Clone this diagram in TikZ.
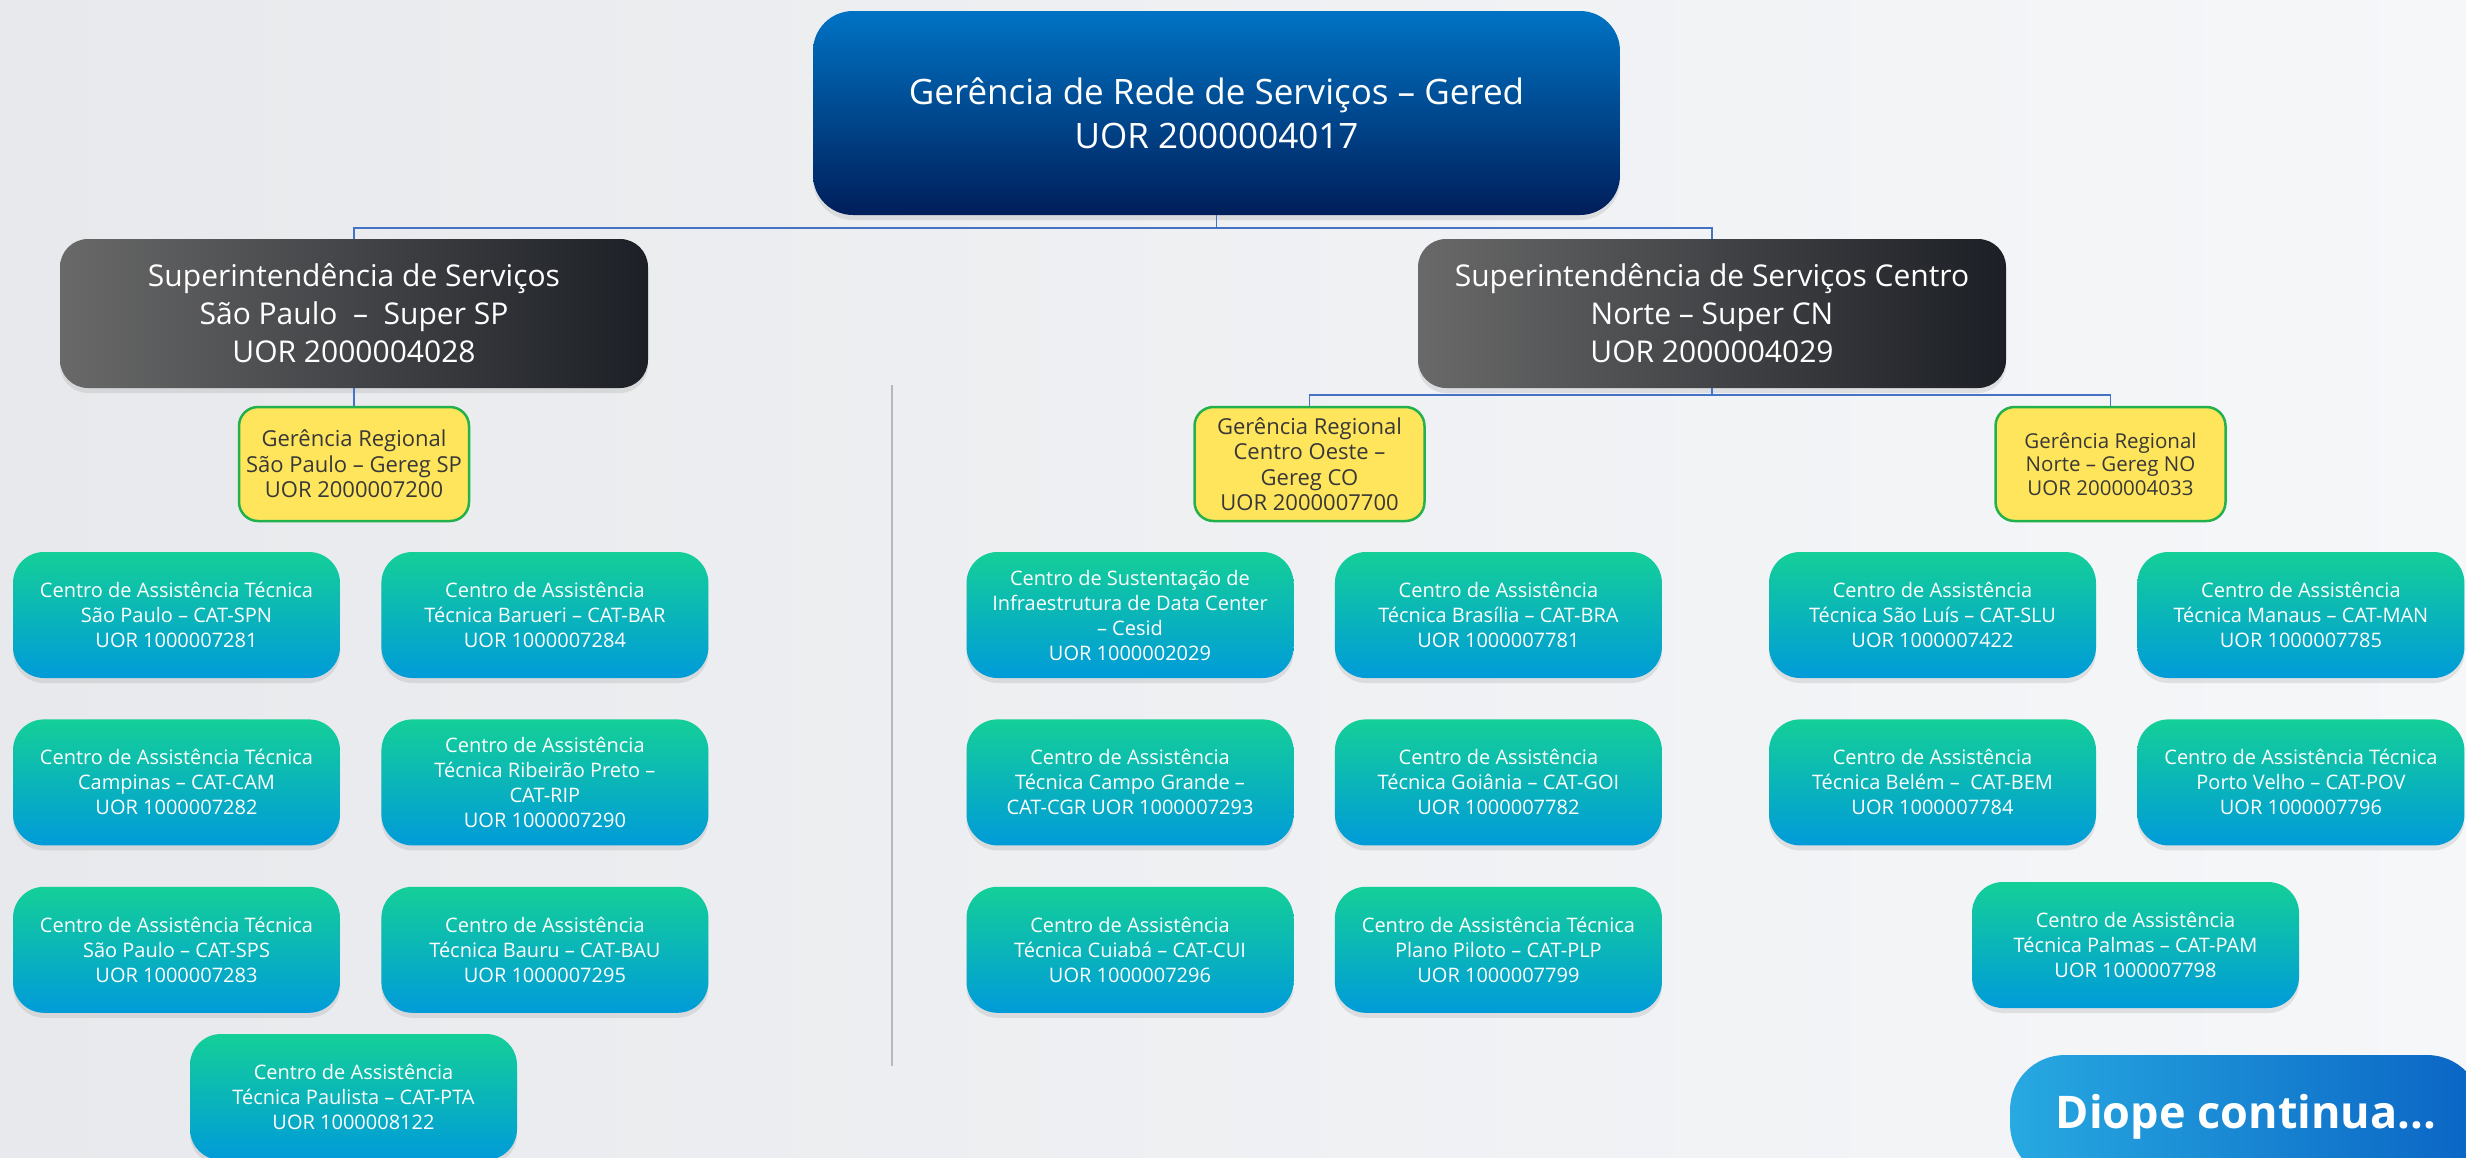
\documentclass[tikz,border=0pt]{standalone}
\usepackage{fontspec}
\setmainfont{Open Sans}
\usetikzlibrary{positioning,shadows}

\definecolor{bgleft}{HTML}{E7E9EC}
\definecolor{bgright}{HTML}{F6F7F9}
\definecolor{geredtop}{HTML}{0073C4}
\definecolor{geredbot}{HTML}{001E5A}
\definecolor{superleft}{HTML}{696969}
\definecolor{superright}{HTML}{1C1F25}
\definecolor{geregfill}{HTML}{FFE55B}
\definecolor{geregline}{HTML}{22B14C}
\definecolor{cattop}{HTML}{14CF98}
\definecolor{catbot}{HTML}{009BD9}
\definecolor{diopeleft}{HTML}{27A9E1}
\definecolor{diopright}{HTML}{0A64C4}
\definecolor{connblue}{HTML}{4472C4}

\begin{document}
\begin{tikzpicture}[x=1pt, y=-1pt, node distance=41pt,
  every node/.style={align=center, inner sep=2pt},
  boxshadow/.style={drop shadow={opacity=0.18, shadow xshift=0pt, shadow yshift=-5pt}},
  topbox/.style={boxshadow, rounded corners=40pt, top color=geredtop, bottom color=geredbot,
    minimum width=807pt, minimum height=204pt, text=white, font=\fontsize{35}{44}\selectfont},
  superbox/.style={boxshadow, rounded corners=28pt, left color=superleft, right color=superright,
    minimum width=588pt, minimum height=149pt, text=white, font=\fontsize{30}{38}\selectfont},
  geregbox/.style={draw=geregline, line width=2.5pt, fill=geregfill, rounded corners=19pt,
    minimum width=230pt, minimum height=114pt, text=black!78, font=\fontsize{22}{25.5}\selectfont},
  catbox/.style={boxshadow, rounded corners=31pt, top color=cattop, bottom color=catbot,
    minimum width=327pt, minimum height=126pt, text=white, font=\fontsize{20}{25}\selectfont},
  conn/.style={draw=connblue, line width=1.5pt},
  divider/.style={draw=black!28, line width=1.5pt}]

\useasboundingbox (0,0) rectangle (2466,1157);
\fill[left color=bgleft, right color=bgright] (0,0) rectangle (2466,1157);

% top levels
\node[topbox] (gered) at (1216.5,113) {Gerência de Rede de Serviços – Gered\\UOR 2000004017};
\node[superbox] (supersp) at (354,313.5) {Superintendência de Serviços\\São Paulo~~–~~Super SP\\UOR 2000004028};
\node[superbox] (supercn) at (1712,313.5) {Superintendência de Serviços Centro\\Norte – Super CN\\UOR 2000004029};

\node[geregbox] (geregsp) at (354,464) {Gerência Regional\\São Paulo – Gereg SP\\UOR 2000007200};
\node[geregbox] (geregco) at (1309.5,464) {Gerência Regional\\Centro Oeste –\\Gereg CO\\UOR 2000007700};
\node[geregbox, font=\fontsize{20.5}{23.5}\selectfont] (geregno) at (2110.5,464) {Gerência Regional\\Norte – Gereg NO\\UOR 2000004033};

% CAT Sao Paulo
\node[catbox] (catspn) at (176.5,615) {Centro de Assistência Técnica\\São Paulo – CAT-SPN\\UOR 1000007281};
\node[catbox] (catbar) [right=of catspn] {Centro de Assistência\\Técnica Barueri – CAT-BAR\\UOR 1000007284};
\node[catbox] (catcam) [below=of catspn] {Centro de Assistência Técnica\\Campinas – CAT-CAM\\UOR 1000007282};
\node[catbox] (catrip) [below=of catbar] {Centro de Assistência\\Técnica Ribeirão Preto –\\CAT-RIP\\UOR 1000007290};
\node[catbox] (catsps) [below=of catcam] {Centro de Assistência Técnica\\São Paulo – CAT-SPS\\UOR 1000007283};
\node[catbox] (catbau) [below=of catrip] {Centro de Assistência\\Técnica Bauru – CAT-BAU\\UOR 1000007295};
\node[catbox] (catpta) at (353.5,1097) {Centro de Assistência\\Técnica Paulista – CAT-PTA\\UOR 1000008122};

% CAT Centro Oeste
\node[catbox] (cesid) at (1130,615) {Centro de Sustentação de\\Infraestrutura de Data Center\\– Cesid\\UOR 1000002029};
\node[catbox] (catbra) [right=of cesid] {Centro de Assistência\\Técnica Brasília – CAT-BRA\\UOR 1000007781};
\node[catbox] (catcgr) [below=of cesid] {Centro de Assistência\\Técnica Campo Grande –\\CAT-CGR UOR 1000007293};
\node[catbox] (catgoi) [below=of catbra] {Centro de Assistência\\Técnica Goiânia – CAT-GOI\\UOR 1000007782};
\node[catbox] (catcui) [below=of catcgr] {Centro de Assistência\\Técnica Cuiabá – CAT-CUI\\UOR 1000007296};
\node[catbox] (catplp) [below=of catgoi] {Centro de Assistência Técnica\\Plano Piloto – CAT-PLP\\UOR 1000007799};

% CAT Norte
\node[catbox] (catslu) at (1932.5,615) {Centro de Assistência\\Técnica São Luís – CAT-SLU\\UOR 1000007422};
\node[catbox] (catman) [right=of catslu] {Centro de Assistência\\Técnica Manaus – CAT-MAN\\UOR 1000007785};
\node[catbox] (catbem) [below=of catslu] {Centro de Assistência\\Técnica Belém –~~CAT-BEM\\UOR 1000007784};
\node[catbox] (catpov) [below=of catman] {Centro de Assistência Técnica\\Porto Velho – CAT-POV\\UOR 1000007796};
\node[catbox] (catpam) at (2135.5,945) {Centro de Assistência\\Técnica Palmas – CAT-PAM\\UOR 1000007798};

\node[rounded corners=55pt, left color=diopeleft, right color=diopright, minimum width=472pt,
  minimum height=124pt, text=white, font=\fontsize{45}{50}\selectfont\bfseries] (diope) at (2246,1117) {Diope continua...};

% connectors
\coordinate (bustop) at (1216.5,228);
\coordinate (buscn) at (1712,395);
\draw[conn] (gered.south) -- (bustop);
\draw[conn] (bustop) -| (supersp.north);
\draw[conn] (bustop) -| (supercn.north);
\draw[conn] (supersp.south) -- (geregsp.north);
\draw[conn] (supercn.south) -- (buscn);
\draw[conn] (buscn) -| (geregco.north);
\draw[conn] (buscn) -| (geregno.north);

\draw[divider] (892,385) -- (892,1066);

\end{tikzpicture}
\end{document}
